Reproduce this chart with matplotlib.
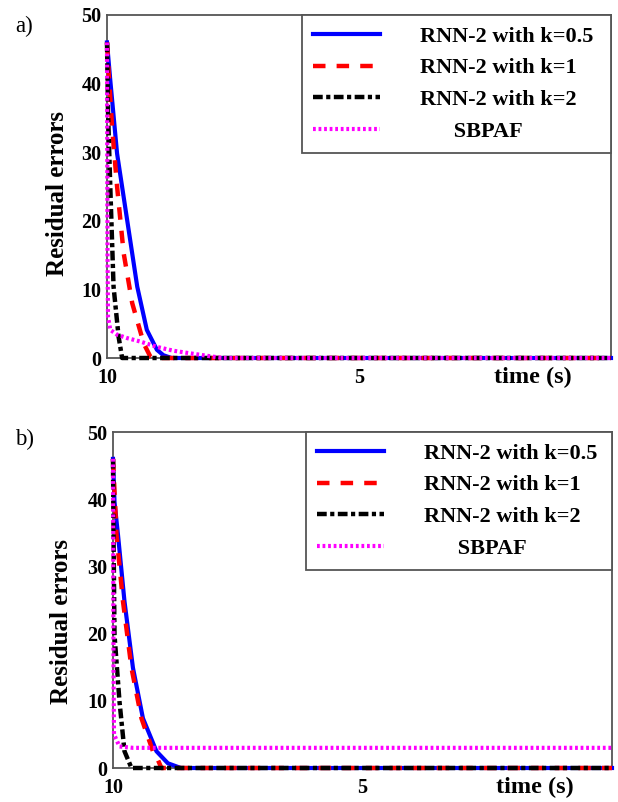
import matplotlib
matplotlib.use("Agg")
import matplotlib.pyplot as plt

plt.rcParams['font.family'] = ['Liberation Serif', 'DejaVu Serif']
plt.rcParams['lines.scale_dashes'] = False

labels = ['RNN-2 with k=0.5', 'RNN-2 with k=1', 'RNN-2 with k=2', '      SBPAF']

# panel a)
a_t_k05 = [0, 0.065, 0.2, 0.4, 0.6, 0.79, 0.99, 1.12, 1.28, 10]
a_e_k05 = [46, 40.5, 29.8, 20.1, 10.4, 4.1, 1.2, 0.4, 0, 0]
a_t_k1 = [0, 0.03, 0.1, 0.2, 0.33, 0.5, 0.73, 0.86, 0.9, 10]
a_e_k1 = [46, 42, 33.7, 25, 15.3, 8, 2.1, 0.2, 0, 0]
a_t_k2 = [0, 0.02, 0.065, 0.13, 0.23, 0.3, 10]
a_e_k2 = [46, 36, 25, 10.4, 3.1, 0, 0]
a_t_sb = [0, 0.005, 0.01, 0.02, 0.065, 0.2, 0.4, 0.66, 1.0, 1.32, 1.65, 2.1, 2.3, 10]
a_e_sb = [46, 30, 15, 6, 4.1, 3.4, 2.9, 2.4, 1.6, 1.06, 0.68, 0.2, 0, 0]

# panel b)
b_t_k05 = [0, 0.03, 0.1, 0.23, 0.4, 0.6, 0.87, 1.1, 1.36, 10]
b_e_k05 = [46, 39.6, 34.7, 24.8, 14.9, 7.4, 2.5, 0.7, 0, 0]
b_t_k1 = [0, 0.07, 0.2, 0.37, 0.57, 0.8, 0.9, 0.97, 10]
b_e_k1 = [46, 34.7, 24.8, 14.9, 7.4, 2.5, 1.2, 0, 0]
b_t_k2 = [0, 0.01, 0.03, 0.13, 0.23, 0.37, 10]
b_e_k2 = [46, 35, 19.8, 9.9, 2.5, 0, 0]
b_t_sb = [0, 0.005, 0.01, 0.02, 0.13, 0.4, 10]
b_e_sb = [46, 30, 15, 5, 3.2, 3.0, 3.0]

yticks = [0, 10, 20, 30, 40, 50]
xticks = [0, 5]
xticklabels = ['10', '5']

fig = plt.figure(figsize=(6.18, 8.02), dpi=100)
ax_a = fig.add_axes([107/618, 1-358/802, 504/618, 343/802])
ax_b = fig.add_axes([113/618, 1-768/802, 499/618, 336/802])

panels = [
    (ax_a, a_t_k05, a_e_k05, a_t_k1, a_e_k1, a_t_k2, a_e_k2, a_t_sb, a_e_sb, (302-107)/504, 0.481, -0.075, 'a)', 26),
    (ax_b, b_t_k05, b_e_k05, b_t_k1, b_e_k1, b_t_k2, b_e_k2, b_t_sb, b_e_sb, (306-113)/499, 0.4375, -0.081, 'b)', 439),
]

for ax, t1, e1, t2, e2, t3, e3, t4, e4, legx, ylab_y, ylab_x, tag, tag_y in panels:
    ax.plot(t1, e1, color='#0000ff', lw=3.0, label=labels[0], clip_on=False, zorder=3)
    ax.plot(t2, e2, color='#ff0000', lw=3.2, dashes=(9, 8), label=labels[1], clip_on=False, zorder=3)
    ax.plot(t3, e3, color='black', lw=3.2, dashes=(7, 2.5, 3, 2.5), label=labels[2], clip_on=False, zorder=3)
    ax.plot(t4, e4, color='#ff00ff', lw=3.0, dashes=(2, 2), label=labels[3], clip_on=False, zorder=3)
    ax.set_xlim(0, 10)
    ax.set_ylim(0, 50)
    ax.set_yticks(yticks)
    ax.set_xticks(xticks)
    ax.set_xticklabels(xticklabels)
    ax.tick_params(length=0, labelsize=14.5)
    ax.tick_params(axis='x', pad=7)
    ax.tick_params(axis='y', pad=4)
    for lab in ax.get_xticklabels() + ax.get_yticklabels():
        lab.set_fontweight('bold')
    for s in ax.spines.values():
        s.set_color('#555555')
        s.set_linewidth(1.3)
    ax.set_ylabel('Residual errors', fontsize=18, fontweight='bold')
    ax.yaxis.set_label_coords(ylab_x, ylab_y)
    ax.text(0.845, -0.027, 'time (s)', transform=ax.transAxes, ha='center', va='top',
            fontsize=17.5, fontweight='bold')
    leg = ax.legend(loc='upper left', bbox_to_anchor=(legx, 0, 1 - legx, 1), mode='expand',
                    borderaxespad=0, fancybox=False, edgecolor='#555555', framealpha=1,
                    prop={'weight': 'bold', 'size': 16}, handlelength=3.0, handletextpad=1.8,
                    labelspacing=0.5, borderpad=0.5)
    leg.get_frame().set_linewidth(1.3)
    fig.text(15/618, 1 - tag_y/802, tag, fontsize=16.5, va='center', ha='left')

fig.savefig('out.png', dpi=100)
